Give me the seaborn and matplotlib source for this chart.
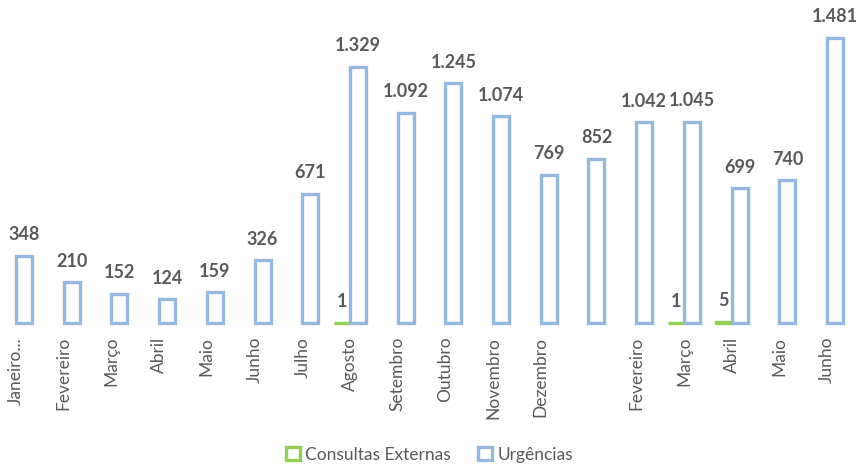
import numpy as np
import pandas as pd
import matplotlib.pyplot as plt
import seaborn as sns
from matplotlib.patches import Patch

# Data
meses = ['Janeiro...', 'Fevereiro', 'Março', 'Abril', 'Maio', 'Junho', 'Julho',
         'Agosto', 'Setembro', 'Outubro', 'Novembro', 'Dezembro', '',
         'Fevereiro', 'Março', 'Abril', 'Maio', 'Junho']
consultas = [np.nan, np.nan, np.nan, np.nan, np.nan, np.nan, np.nan, 1, np.nan,
             np.nan, np.nan, np.nan, np.nan, np.nan, 1, 5, np.nan, np.nan]
urgencias = [348, 210, 152, 124, 159, 326, 671, 1329, 1092, 1245, 1074, 769,
             852, 1042, 1045, 699, 740, 1481]
series = ['Consultas Externas', 'Urgências']
cores = ['#92D050', '#95B8E0']
cinza = '#595959'

df = pd.DataFrame({
    'pos': list(range(len(meses))) * 2,
    'serie': [series[0]] * len(meses) + [series[1]] * len(meses),
    'valor': consultas + urgencias,
})

sns.set_style('white')
plt.rcParams['font.family'] = ['Lato', 'DejaVu Sans']

fig = plt.figure(figsize=(8.59, 4.66), dpi=100)
ax = fig.add_axes([0, 0.307, 1, 0.672])

sns.barplot(data=df, x='pos', y='valor', hue='serie', hue_order=series,
            palette=cores, fill=False, width=0.67, linewidth=2.4,
            errorbar=None, legend=False, ax=ax)

ax.set_xlim(-0.335, 17.67)
ax.set_ylim(0, 1626)

def fmt(v):
    return f'{int(v):,}'.replace(',', '.')

for cont in ax.containers:
    for bar in cont:
        bar.set_clip_on(False)
        h = bar.get_height()
        if np.isnan(h):
            continue
        ax.annotate(fmt(h), (bar.get_x() + bar.get_width() / 2, h),
                    xytext=(0, 9), textcoords='offset points',
                    ha='center', va='bottom', fontsize=13,
                    fontweight='bold', color=cinza)

ax.set_xticks(range(len(meses)))
ax.set_xticklabels(meses, rotation=90, fontsize=12.5, color=cinza, va='top')
ax.tick_params(axis='x', length=0, pad=10)
ax.set_yticks([])
ax.set_xlabel('')
ax.set_ylabel('')
sns.despine(ax=ax, left=True, bottom=True)

handles = [Patch(facecolor='white', edgecolor=c, linewidth=2.4) for c in cores]
fig.legend(handles, series, loc='center', bbox_to_anchor=(0.5, 0.024),
           ncol=2, frameon=False, fontsize=12.5, labelcolor=cinza,
           handlelength=0.8, handleheight=0.8, handletextpad=0.3,
           columnspacing=1.6)

fig.savefig('out.png', dpi=100)
